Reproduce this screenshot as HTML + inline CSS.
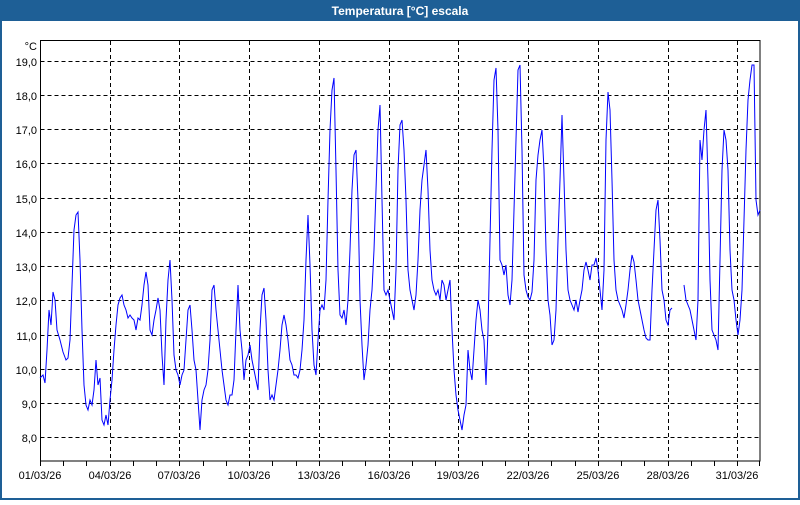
<!DOCTYPE html>
<html><head><meta charset="utf-8"><style>
body{margin:0;width:800px;height:500px;overflow:hidden;background:#fff;font-family:"Liberation Sans","DejaVu Sans",sans-serif}
</style></head><body>
<svg width="800" height="500" xmlns="http://www.w3.org/2000/svg" font-family="Liberation Sans, DejaVu Sans, sans-serif">
<rect x="0" y="0" width="800" height="500" fill="#1e5f96"/>
<rect x="2" y="21" width="796" height="477" fill="#fff"/>
<text x="400" y="15" fill="#fff" font-size="12" font-weight="bold" text-anchor="middle">Temperatura [°C] escala</text>
<g stroke="#000" stroke-width="1" stroke-dasharray="4,3" fill="none">
<path d="M40.5 61.5H760M40.5 95.5H760M40.5 129.5H760M40.5 163.5H760M40.5 198.5H760M40.5 232.5H760M40.5 266.5H760M40.5 300.5H760M40.5 335.5H760M40.5 369.5H760M40.5 403.5H760M40.5 437.5H760"/>
<path d="M110.5 41V461M179.5 41V461M249.5 41V461M319.5 41V461M389.5 41V461M458.5 41V461M528.5 41V461M598.5 41V461M668.5 41V461M737.5 41V461"/>
</g>
<rect x="40.5" y="40.5" width="719.5" height="420.5" fill="none" stroke="#000"/>
<g stroke="#000"><path d="M63.5 461V466M86.5 461V466M110.5 461V466M133.5 461V466M156.5 461V466M179.5 461V466M203.5 461V466M226.5 461V466M249.5 461V466M272.5 461V466M296.5 461V466M319.5 461V466M342.5 461V466M365.5 461V466M389.5 461V466M412.5 461V466M435.5 461V466M458.5 461V466M482.5 461V466M505.5 461V466M528.5 461V466M551.5 461V466M575.5 461V466M598.5 461V466M621.5 461V466M644.5 461V466M668.5 461V466M691.5 461V466M714.5 461V466M737.5 461V466M40.5 461V466M759.5 461V466"/></g>
<g font-size="11" fill="#000" text-anchor="end">
<text x="37" y="50">°C</text>
<text x="37" y="66">19,0</text><text x="37" y="100">18,0</text><text x="37" y="134">17,0</text><text x="37" y="168">16,0</text><text x="37" y="203">15,0</text><text x="37" y="237">14,0</text><text x="37" y="271">13,0</text><text x="37" y="305">12,0</text><text x="37" y="340">11,0</text><text x="37" y="374">10,0</text><text x="37" y="408">9,0</text><text x="37" y="442">8,0</text>
</g>
<g font-size="11" fill="#000" text-anchor="middle">
<text x="40" y="479">01/03/26</text><text x="110" y="479">04/03/26</text><text x="179" y="479">07/03/26</text><text x="249" y="479">10/03/26</text><text x="319" y="479">13/03/26</text><text x="389" y="479">16/03/26</text><text x="458" y="479">19/03/26</text><text x="528" y="479">22/03/26</text><text x="598" y="479">25/03/26</text><text x="668" y="479">28/03/26</text><text x="737" y="479">31/03/26</text>
</g>
<g fill="none" stroke="#0000ff" stroke-width="1">
<polyline points="40,378 43,375 45,383 47,350 49,310 51,325 53,292 55,300 57,330 60,340 63,352 66,360 68,358 70,340 72,285 74,230 76,215 78,212 80,260 82,330 84,385 86,405 88,410 90,400 92,405 94,390 96,360 98,385 100,378 102,420 104,425 106,415 108,425 110,400 112,380 114,350 116,325 118,305 120,298 122,295 124,305 126,310 128,318 130,315 132,318 134,320 136,330 138,318 140,320 142,305 144,285 146,272 148,285 150,330 152,335 154,320 156,310 158,298 160,310 162,355 164,385 166,320 168,280 170,260 172,300 174,355 176,370 178,375 180,385 182,375 184,370 186,340 188,310 190,305 192,330 194,360 196,370 198,400 200,430 202,400 204,390 206,385 208,370 210,340 212,290 214,285 216,310 218,330 220,350 222,370 224,385 226,400 228,405 230,395 232,395 234,380 236,330 238,285 240,330 242,350 244,380 246,360 248,355 250,345 252,360 254,370 256,380 258,390 260,330 262,295 264,288 266,320 268,370 270,400 272,395 274,400 276,385 278,370 280,350 282,325 284,315 286,325 288,340 290,360 292,365 294,375 296,375 298,378 300,370 302,350 304,320 306,260 308,215 310,265 312,330 314,365 316,375 318,340 320,310 322,305 324,310 326,280 328,200 330,130 332,90 334,78 336,170 338,270 340,315 342,318 344,310 346,325 348,300 350,250 352,190 354,155 356,150 358,200 360,300 362,345 364,380 366,365 368,345 370,310 372,290 374,250 376,190 378,130 380,105 382,200 384,290 386,295 388,290 390,300 392,310 394,320 396,270 398,170 400,125 402,120 404,150 406,200 408,270 410,290 412,300 414,310 416,295 418,260 420,210 422,180 424,165 426,150 428,190 430,250 432,280 434,290 436,295 438,290 440,300 442,280 444,285 446,300 448,290 450,280 452,330 454,370 456,395 458,410 460,420 462,430 464,415 466,405 468,350 470,370 472,380 474,350 476,320 478,300 480,310 482,330 484,340 486,385 488,330 490,240 492,150 494,80 496,68 498,130 500,260 502,265 504,275 506,265 508,295 510,305 512,280 514,210 516,140 518,70 520,65 522,150 524,275 526,290 528,297 530,300 532,292 534,260 536,180 538,155 540,140 542,130 544,170 546,250 548,300 550,315 552,345 554,340 556,310 558,240 560,180 562,115 564,180 566,250 568,290 570,300 572,305 574,310 576,300 578,312 580,300 582,290 584,270 586,262 588,270 590,280 592,265 594,265 596,258 598,270 600,290 602,310 604,270 606,140 608,92 610,110 612,180 614,260 616,290 618,300 620,305 622,310 624,318 626,305 628,290 630,270 632,255 634,262 636,280 638,300 640,310 642,320 644,330 646,338 648,340 650,340 652,290 654,250 656,210 658,200 660,240 662,290 664,300 666,320 668,325 670,310 672,308"/>
<polyline points="684,285 686,300 688,305 690,310 692,320 694,330 696,340 698,300 700,140 702,160 704,130 706,110 708,180 710,280 712,330 714,335 716,340 718,350 720,260 722,170 724,130 726,140 728,170 730,250 732,290 734,300 736,320 738,335 740,320 742,290 744,220 746,150 748,100 750,80 752,65 754,65 756,200 758,215 760,210"/>
</g>
</svg>
</body></html>
